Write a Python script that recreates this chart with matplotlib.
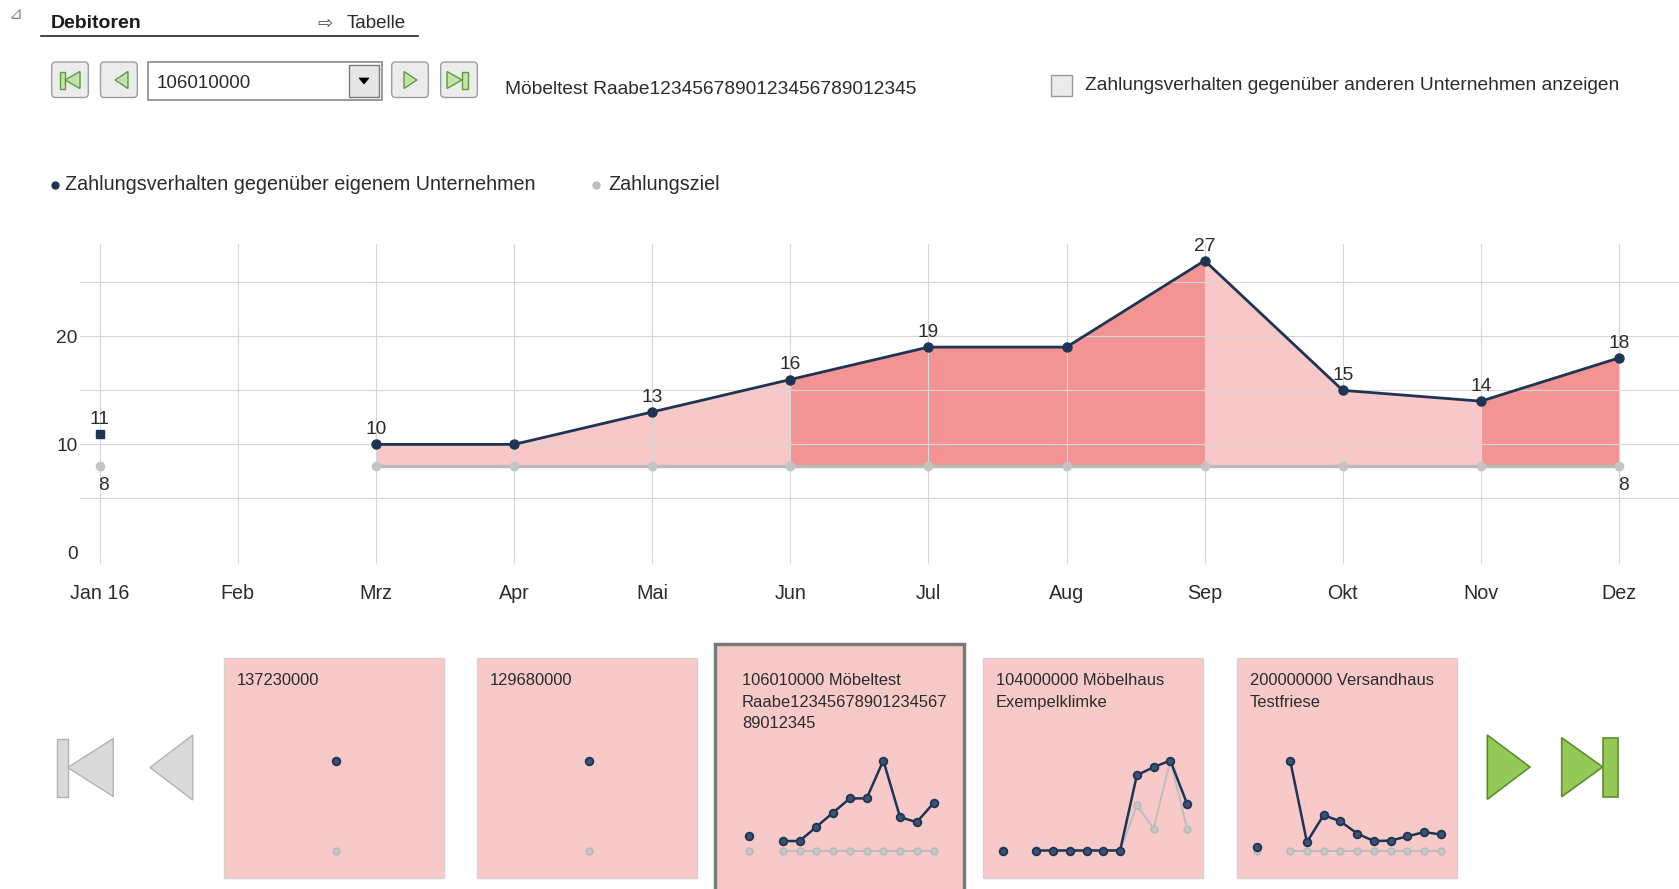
import numpy as np
import matplotlib
matplotlib.use("Agg")
import matplotlib.pyplot as plt
from matplotlib.patches import Rectangle, Polygon, FancyBboxPatch

# ---------------- data ----------------
months = ["Jan 16", "Feb", "Mrz", "Apr", "Mai", "Jun", "Jul", "Aug", "Sep", "Okt", "Nov", "Dez"]
own_days = [11, np.nan, 10, 10, 13, 16, 19, 19, 27, 15, 14, 18]
target_days = [8, np.nan, 8, 8, 8, 8, 8, 8, 8, 8, 8, 8]
own_label_on = [True, False, True, False, True, True, True, False, True, True, True, True]
target_label_on = [True, False, False, False, False, False, False, False, False, False, False, True]
# shade of the area between month i and i+1 (None = no area)
segment_dark = [None, None, False, False, False, True, True, True, False, False, True]

legend_own = "Zahlungsverhalten gegenüber eigenem Unternehmen"
legend_target = "Zahlungsziel"

customer_id = "106010000"
customer_name = "Möbeltest Raabe1234567890123456789012345"
checkbox_text = "Zahlungsverhalten gegenüber anderen Unternehmen anzeigen"

thumb_titles = ["137230000",
                "129680000",
                "106010000 Möbeltest\nRaabe12345678901234567\n89012345",
                "104000000 Möbelhaus\nExempelklimke",
                "200000000 Versandhaus\nTestfriese"]
thumb_own = [[12],
             [12],
             own_days,
             [8, np.nan, 8, 8, 8, 8, 8, 8, 23.8, 25.5, 26.9, 17.8],
             [8.7, np.nan, 27.1, 9.8, 15.5, 14.2, 11.6, 10.0, 10.1, 11.0, 11.9, 11.4]]
thumb_target = [[8],
                [8],
                target_days,
                [8, np.nan, 8, 8, 8, 8, 8, 8, 17.5, 12.6, 26.9, 12.6],
                [8, np.nan, 8, 8, 8, 8, 8, 8, 8, 8, 8, 8]]
thumb_selected = [False, False, True, False, False]

# ---------------- style ----------------
W, H = 1679, 889
NAVY = "#1f3453"
GRAYLINE = "#b9b9b9"
LIGHT = "#f8c7c7"
DARK = "#f29494"
PANEL = "#f8c9c9"
GRID = "#d6d6d6"
TXT = "#2b2b2b"
FONT = ["Liberation Sans", "DejaVu Sans"]
plt.rcParams["font.family"] = FONT

fig = plt.figure(figsize=(W / 100, H / 100), dpi=100)


def px_axes(x0, y0, x1, y1, **kw):
    return fig.add_axes([x0 / W, 1 - y1 / H, (x1 - x0) / W, (y1 - y0) / H], **kw)


# UI overlay in pixel coordinates
ui = px_axes(0, 0, W, H)
ui.set_xlim(0, W)
ui.set_ylim(H, 0)
ui.axis("off")

# ---- header ----
ui.text(16, 14, "⊿", fontsize=12, color="#8a8a8a", family="DejaVu Sans", ha="center", va="center")
ui.text(51, 24, "Debitoren", fontsize=14, fontweight="bold", color="#1a1a1a", va="center")
ui.text(317, 23.5, "⇨", fontsize=13, color="#555555", family="DejaVu Sans", va="center")
ui.text(347, 24, "Tabelle", fontsize=13.5, color=TXT, va="center")
ui.plot([41, 418], [36, 36], color="#222222", lw=1.2)


def button(x0, x1, y0, y1):
    ui.add_patch(FancyBboxPatch((x0, y0), x1 - x0, y1 - y0,
                                boxstyle="round,pad=0,rounding_size=4",
                                fc="#ececec", ec="#9c9c9c", lw=1.0))


GFACE, GEDGE = "#c4e2ac", "#5f9a3c"
by0, by1 = 62, 97.5
gy0, gy1 = 71.5, 88.5
gym = (gy0 + gy1) / 2
button(51.7, 88.3, by0, by1)
ui.add_patch(Rectangle((60, gy0), 5, gy1 - gy0, fc=GFACE, ec=GEDGE, lw=1))
ui.add_patch(Polygon([(65, gym), (80, gy0), (80, gy1)], closed=True, fc=GFACE, ec=GEDGE, lw=1))
button(100.5, 137.3, by0, by1)
ui.add_patch(Polygon([(115, gym), (128, gy0), (128, gy1)], closed=True, fc=GFACE, ec=GEDGE, lw=1))
button(391.7, 428.3, by0, by1)
ui.add_patch(Polygon([(417, gym), (404, gy0), (404, gy1)], closed=True, fc=GFACE, ec=GEDGE, lw=1))
button(440.7, 477.3, by0, by1)
ui.add_patch(Polygon([(462, gym), (447, gy0), (447, gy1)], closed=True, fc=GFACE, ec=GEDGE, lw=1))
ui.add_patch(Rectangle((462, gy0), 6, gy1 - gy0, fc=GFACE, ec=GEDGE, lw=1))

# combobox
ui.add_patch(Rectangle((147.7, 62), 234, 37.5, fc="white", ec="#8a8a8a", lw=1.2))
ui.add_patch(Rectangle((349, 64.5), 30, 32.5, fc="#e6e6e6", ec="#7a7a7a", lw=1.0))
ui.add_patch(Polygon([(359, 78), (369, 78), (364, 84)], closed=True, fc="black", ec="black", lw=0.5))
ui.text(157, 83.5, customer_id, fontsize=13.5, color=TXT, va="center")

ui.text(505, 89, customer_name, fontsize=13.8, color=TXT, va="center")
ui.add_patch(Rectangle((1051, 75), 21, 21, fc="#ececec", ec="#9a9a9a", lw=1.0))
ui.text(1085, 86, checkbox_text, fontsize=13.8, color=TXT, va="center")

# legend
ui.plot([54.6], [184.5], "o", color=NAVY, ms=5)
ui.text(65, 184.5, legend_own, fontsize=14.2, color=TXT, va="center")
ui.plot([596.4], [184.5], "o", color="#bdbdbd", ms=5)
ui.text(608, 184.5, legend_target, fontsize=14.2, color=TXT, va="center")

# ---------------- main chart ----------------
ax_l, ax_r, ax_t, ax_b = 80.3, 1679, 244, 552.5
jan_px, month_px = 99.6, 138.13
px_per_day = (552.5 - 444.4) / 10
ax = px_axes(ax_l, ax_t, ax_r, ax_b)
ax.set_facecolor("none")
x = np.arange(len(months))
ax.set_xlim((ax_l - jan_px) / month_px, (ax_r - jan_px) / month_px)
ax.set_ylim(0, (ax_b - ax_t) / px_per_day)
for s in ax.spines.values():
    s.set_visible(False)

ax.set_xticks(x)
ax.set_xticklabels(months)
ax.set_yticks([0, 10, 20])
ax.set_yticks([5, 15, 25], minor=True)
ax.set_axisbelow("line")
ax.grid(axis="x", which="major", color=GRID, lw=0.8)
ax.grid(axis="y", which="both", color=GRID, lw=0.8)
ax.tick_params(axis="x", length=7, width=0.8, color=GRID, direction="out", pad=15.5,
               labelsize=14.2, labelcolor=TXT)
ax.tick_params(axis="y", which="both", length=0, pad=2, labelsize=13.8, labelcolor=TXT)

own_arr = np.array(own_days, dtype=float)
tgt_arr = np.array(target_days, dtype=float)
for i, dark in enumerate(segment_dark):
    if dark is None:
        continue
    ax.fill_between(x[i:i + 2], tgt_arr[i:i + 2], own_arr[i:i + 2],
                    color=DARK if dark else LIGHT, lw=0, zorder=1)

ax.plot(x, tgt_arr, color=GRAYLINE, lw=2.4, marker="o", ms=6, mfc="#c4c4c4", mec="#c4c4c4", zorder=2)
ax.plot(x, own_arr, color=NAVY, lw=2.0, zorder=3)
for i, v in enumerate(own_arr):
    if np.isnan(v):
        continue
    prev_nan = i == 0 or np.isnan(own_arr[i - 1])
    next_nan = i == len(own_arr) - 1 or np.isnan(own_arr[i + 1])
    mk = "s" if (prev_nan and next_nan) else "o"
    ax.plot([x[i]], [v], marker=mk, ms=5.5 if mk == "s" else 6.5, color=NAVY, zorder=4)

for i, v in enumerate(own_arr):
    if own_label_on[i] and not np.isnan(v):
        ax.annotate(f"{v:g}", (x[i], v), xytext=(0, 10.5), textcoords="offset points",
                    ha="center", va="center", fontsize=13.8, color=TXT, zorder=5)
for i, v in enumerate(tgt_arr):
    if target_label_on[i] and not np.isnan(v):
        ax.annotate(f"{v:g}", (x[i], v), xytext=(3, -14), textcoords="offset points",
                    ha="center", va="center", fontsize=13.8, color=TXT, zorder=5)

# ---------------- bottom navigation ----------------
GR_F, GR_E = "#dadada", "#b2b2b2"
ui.add_patch(Rectangle((56.7, 738.5), 11, 58, fc=GR_F, ec=GR_E, lw=1))
ui.add_patch(Polygon([(67.7, 767.5), (113.3, 738.5), (113.3, 796.5)], closed=True, fc=GR_F, ec=GR_E, lw=1))
ui.add_patch(Polygon([(150, 767.5), (192.7, 735), (192.7, 800)], closed=True, fc=GR_F, ec=GR_E, lw=1))
GN_F, GN_E = "#94c957", "#5e8d2c"
ui.add_patch(Polygon([(1530, 767), (1487.3, 735), (1487.3, 799.3)], closed=True, fc=GN_F, ec=GN_E, lw=1.2))
ui.add_patch(Polygon([(1602.7, 767), (1561.7, 737.7), (1561.7, 796.7)], closed=True, fc=GN_F, ec=GN_E, lw=1.2))
ui.add_patch(Rectangle((1603.3, 737.7), 15, 59, fc=GN_F, ec=GN_E, lw=1.2))

# thumbnails
panels = [(224, 444, 658.3, 878.3), (476.7, 696.7, 658.3, 878.3), (715.3, 963.7, 643.5, 905),
          (983, 1203, 658.3, 878.3), (1236.8, 1456.7, 658.3, 878.3)]
text_top = 673
thumb_step = 16.74
y_low_px, y_high_px = 850.5, 760.5
for k, (L, R, T, B) in enumerate(panels):
    ui.add_patch(Rectangle((L, T), R - L, B - T, fc=PANEL,
                           ec="#7a7a7a" if thumb_selected[k] else "#d8cfcf",
                           lw=2.5 if thumb_selected[k] else 1.0))
    ui.text(L + (26.7 if thumb_selected[k] else 12.7), text_top, thumb_titles[k], fontsize=11.9,
            color=TXT, va="top", ha="left", linespacing=1.55)
    o = np.array(thumb_own[k], dtype=float)
    t = np.array(thumb_target[k], dtype=float)
    xs = np.arange(len(o))
    allv = np.concatenate([o[~np.isnan(o)], t[~np.isnan(t)]])
    vmin, vmax = allv.min(), allv.max()
    per_px = (vmax - vmin) / (y_low_px - y_high_px)
    cx = (L + R) / 2 + 2
    xc = (xs[0] + xs[-1]) / 2
    m = px_axes(L, T, R, B)
    m.set_facecolor("none")
    m.axis("off")
    m.set_xlim(xc - (cx - L) / thumb_step, xc + (R - cx) / thumb_step)
    m.set_ylim(vmin - (B - y_low_px) * per_px, vmax + (y_high_px - T) * per_px)
    m.plot(xs, t, color="#bdbdbd", lw=1.4, marker="o", ms=5, mfc="#c6c6c6", mec="#b8b8b8", mew=1)
    m.plot(xs, o, color=NAVY, lw=1.8, marker="o", ms=5.5, mfc="#3c5273", mec=NAVY, mew=1.3)

fig.savefig("out.png", dpi=100)
